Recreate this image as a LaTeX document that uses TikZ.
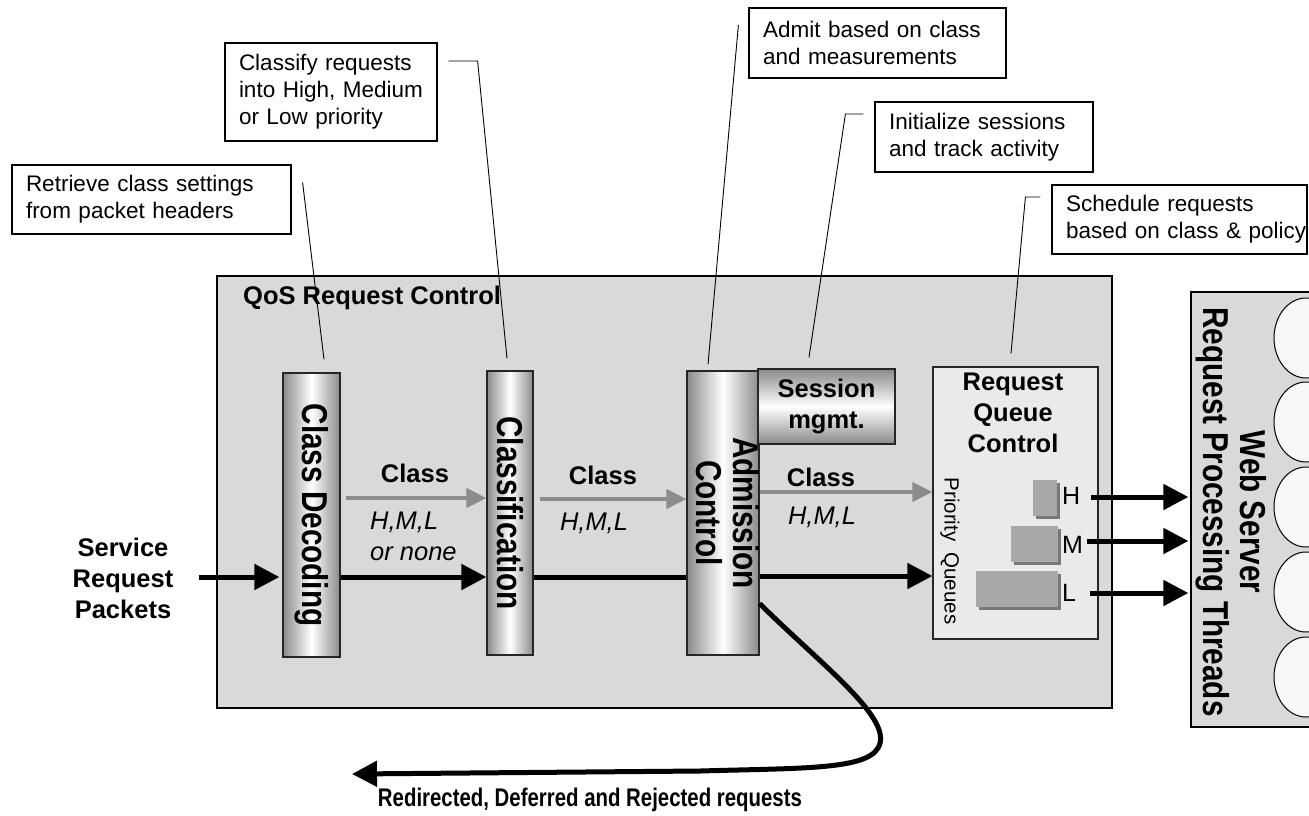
\documentclass[tikz,border=0pt]{standalone}
\usepackage{fontspec}
\usepackage{graphicx}
\setmainfont{Liberation Sans}
\usetikzlibrary{arrows.meta,calc,shapes.geometric,shadows}
\definecolor{texfill}{HTML}{D9D9D9}
\definecolor{rqcfill}{HTML}{EAEAEA}
\definecolor{garrow}{HTML}{8C8C8C}
\definecolor{barg}{HTML}{8A8A8A}
\definecolor{qbar}{HTML}{A8A8A8}
\definecolor{qshadow}{HTML}{787878}
\definecolor{ellfill}{HTML}{F7F7F7}
\newcommand\myB{\fontsize{25.5}{31}\selectfont\bfseries}
\newcommand\myI{\fontsize{25.5}{31}\selectfont\itshape}
\newcommand\myC{\fontsize{22.5}{27}\selectfont}
\newcommand\myV{\fontsize{36}{35}\selectfont\bfseries}
\newcommand\myR{\fontsize{25}{30}\selectfont}
\newcommand\myP{\fontsize{20.5}{24}\selectfont}
\newcommand\vlab[1]{\scalebox{0.825}[1]{#1}}
\newcommand\vlabb[2]{\scalebox{0.825}[1]{\begin{tabular}{@{}c@{}}#1\\#2\end{tabular}}}
\tikzset{
  textured/.style={draw=black, line width=1.3pt, fill=texfill},
  barbox/.style={draw=black!85, line width=1.2pt, left color=barg, right color=barg, middle color=white, inner sep=0pt},
  sessbox/.style={draw=black!85, line width=1.2pt, top color=barg, bottom color=barg, middle color=white, inner sep=0pt, align=center, font=\myB},
  callout/.style={draw=black, line width=1.2pt, fill=white, align=left, inner xsep=14pt, inner ysep=0pt, font=\myC},
  leader/.style={draw=black, line width=0.9pt},
  blk/.style={draw=black, line width=5pt, line join=round, -{Triangle[length=25pt,width=25pt]}},
  blkline/.style={draw=black, line width=5pt},
  gry/.style={draw=garrow, line width=4pt, -{Triangle[length=20pt,width=19pt]}},
  qbarbox/.style={fill=qbar, draw=none, inner sep=0pt, drop shadow={shadow xshift=2.5pt, shadow yshift=-2.5pt, fill=qshadow, opacity=1}},
  thread/.style={ellipse, draw=black, line width=1pt, fill=ellfill, minimum width=64pt, minimum height=80pt, inner sep=0pt},
  plain/.style={inner sep=0pt},
}
\begin{document}
\begin{tikzpicture}[x=1pt,y=-1pt]
\clip (0,0) rectangle (1309,815);
\fill[white] (0,0) rectangle (1309,815);

% main containers
\node[textured, minimum width=895pt, minimum height=432pt, inner sep=0pt] (qos) at (664.5,492) {};
\node[plain, font=\myB, anchor=west] (qost) at (243,298) {QoS Request Control};
\node[textured, minimum width=129pt, minimum height=435pt, inner sep=0pt] (ws) at (1255.5,509.5) {};

% callouts
\node[callout, minimum height=69pt, text width=251pt] (c1) at (151.5,199.5) {\mbox{Retrieve class settings}\\\mbox{from packet headers}};
\node[callout, minimum height=98pt, text width=184pt] (c2) at (331,92) {\mbox{Classify requests}\\\mbox{into High, Medium}\\\mbox{or Low priority}};
\node[callout, minimum height=70pt, text width=229pt] (c3) at (877.5,43) {\mbox{Admit based on class}\\\mbox{and measurements}};
\node[callout, minimum height=70pt, text width=190pt] (c4) at (984,137) {\mbox{Initialize sessions}\\\mbox{and track activity}};
\node[callout, minimum height=69pt, text width=227pt] (c5) at (1179.5,219.5) {\mbox{Schedule requests}\\\mbox{based on class \& policy}};

% processing bars
\node[barbox, minimum width=57pt, minimum height=284pt,
  label={[rotate=-90, font=\myV]center:\vlab{Class Decoding}}] (cd) at (311.5,515) {};
\node[barbox, minimum width=46pt, minimum height=284pt,
  label={[rotate=-90, font=\myV]center:\vlab{Classification}}] (cl) at (510,513) {};
\node[barbox, minimum width=72pt, minimum height=284pt,
  label={[rotate=-90, font=\myV]center:\vlabb{Admission}{Control}}] (adm) at (723,513) {};
\node[sessbox, minimum width=137pt, minimum height=75pt] (sess) at (826.5,406.5) {Session\\mgmt.};

% request queue control
\node[draw=black!85, line width=1.2pt, fill=rqcfill, minimum width=165pt, minimum height=272pt, inner sep=0pt] (rqc) at (1015.5,503) {};
\node[plain, font=\myB, align=center] (rqct) at (1013,413) {\baselineskip=32pt Request\\Queue\\Control};
\node[plain, font=\myP, rotate=-90] (pq) at (950,551) {Priority\hspace{0.55em}Queues};
\node[qbarbox, minimum width=24pt, minimum height=36pt] (qh) at (1045,498) {};
\node[qbarbox, minimum width=47pt, minimum height=36pt] (qm) at (1034.5,544) {};
\node[qbarbox, minimum width=82pt, minimum height=36pt] (ql) at (1017,589) {};
\node[plain, font=\myR, anchor=west] (hl) at (1062,496) {H};
\node[plain, font=\myR, anchor=west] (ml) at (1062,545) {M};
\node[plain, font=\myR, anchor=west] (ll) at (1062,593) {L};

% web server
\foreach \i/\yy in {1/338,2/422,3/507,4/592,5/677}{
  \node[thread] (t\i) at (1306,\yy) {};
}
\node[plain, font=\myV, rotate=-90] (wst) at (1230,512) {\vlabb{Web Server}{Request Processing Threads}};

% labels
\node[plain, font=\myB, align=center] (srp) at (123,578) {\baselineskip=30pt Service\\Request\\Packets};
\node[plain, font=\myB] (k1) at (415,473) {Class};
\node[plain, font=\myI, align=left, anchor=north west] (v1) at (370,512) {H,M,L\\or none};
\node[plain, font=\myB] (k2) at (603,475) {Class};
\node[plain, font=\myI] (v2) at (594,523) {H,M,L};
\node[plain, font=\myB] (k3) at (821,477) {Class};
\node[plain, font=\myI] (v3) at (822,517) {H,M,L};
\node[plain, font=\myB] (rdt) at (590,800) {\scalebox{0.8}[1]{Redirected, Deferred and Rejected requests}};

% leader lines
\draw[leader] ($(c1.east)+(11,-17)$) -- ($(cd.north)+(12.5,-13)$);
\draw[leader] ($(c2.east)+(11,-31)$) -- ++(29,0) -- ($(cl.north)+(-3,-12)$);
\draw[leader] ($(c3.west)+(-10,-18)$) -- ($(adm.north)+(-15,-6)$);
\draw[leader] ($(c4.west)+(-11,-23)$) -- ++(-18,0) -- ($(sess.north)+(-17.5,-11)$);
\draw[leader] ($(c5.west)+(-11,-22.5)$) -- ++(-15,0) -- ($(rqc.north)+(-4.5,-13)$);

% flows
\draw[blk] ($(srp.east)+(25,-1)$) -- ($(cd.west)+(-3,62)$);
\draw[blk] ($(cd.east)+(0,62)$) -- ($(cl.west)+(0,64)$);
\draw[gry] ($(cd.east)+(5,-17)$) -- ($(cl.west)+(0,-15)$);
\draw[blkline] ($(cl.east)+(0,64)$) -- ($(adm.west)+(0,64)$);
\draw[gry] ($(cl.east)+(6,-14)$) -- ($(adm.west)+(0,-14)$);
\draw[gry] ($(adm.east)+(0,-21)$) -- ($(rqc.west)+(0,-11)$);
\draw[blk] ($(adm.east)+(0,63)$) -- ($(rqc.west)+(0,73)$);
\coordinate (rej) at (352,774);
\draw[blk] ($(adm.south east)+(0,-52)$) .. controls (825,668) and (895,720) .. (878,748)
   .. controls (865,770) and (800,768) .. (700,771) -- (rej);
\draw[blk] ($(hl.east)+(11,1)$) -- ($(hl.east -| ws.west)+(-2,1)$);
\draw[blk] ($(ml.east)+(4,-4)$) -- ($(ml.east -| ws.west)+(-2,-4)$);
\draw[blk] ($(ll.east)+(14,0)$) -- ($(ll.east -| ws.west)+(-2,0)$);
\end{tikzpicture}
\end{document}
